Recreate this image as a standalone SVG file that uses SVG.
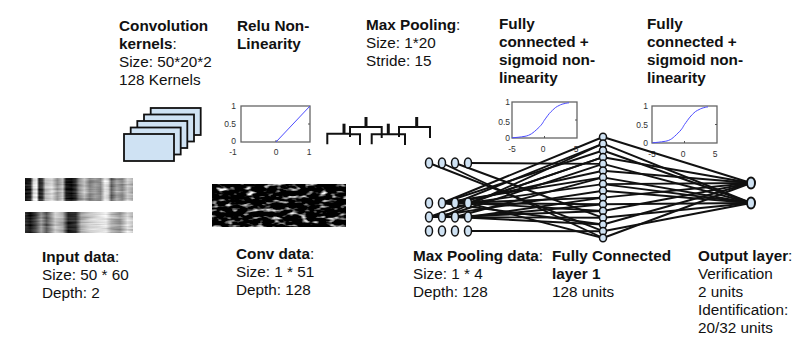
<svg xmlns="http://www.w3.org/2000/svg" width="809" height="346" viewBox="0 0 809 346">
<style>
  text { font-family: "Liberation Sans", Arial, sans-serif; fill: #111; }
  .t { font-size: 15.3px; }
  .b { font-weight: bold; }
  .tick { font-size: 8.5px; fill: #333; }
  .kern { fill: #cfe2f3; stroke: #111; stroke-width: 1.8; }
  .box { fill: #fff; stroke: #666; stroke-width: 1.3; }
  .curve { fill: none; stroke: #4b4bff; stroke-width: 1; }
  .tk { stroke: #555; stroke-width: 1; }
  .pool { fill: none; stroke: #111; stroke-width: 2; }
  .stem { fill: none; stroke: #111; stroke-width: 3; }
  .conn line { stroke: #111; stroke-width: 1.9; }
  .node { fill: #cfe2f3; stroke: #111; stroke-width: 1.5; }
</style>
<defs>
  <linearGradient id="g1" x1="0" y1="0" x2="1" y2="0">
    <stop offset="0" stop-color="#111"/><stop offset="0.05" stop-color="#222"/>
    <stop offset="0.08" stop-color="#ddd"/><stop offset="0.11" stop-color="#eee"/>
    <stop offset="0.13" stop-color="#222"/><stop offset="0.16" stop-color="#333"/>
    <stop offset="0.19" stop-color="#bbb"/><stop offset="0.25" stop-color="#ddd"/>
    <stop offset="0.3" stop-color="#999"/><stop offset="0.35" stop-color="#ccc"/>
    <stop offset="0.38" stop-color="#222"/><stop offset="0.43" stop-color="#111"/>
    <stop offset="0.47" stop-color="#333"/><stop offset="0.5" stop-color="#888"/>
    <stop offset="0.55" stop-color="#bbb"/><stop offset="0.6" stop-color="#777"/>
    <stop offset="0.65" stop-color="#999"/><stop offset="0.7" stop-color="#888"/>
    <stop offset="0.74" stop-color="#eee"/><stop offset="0.77" stop-color="#ddd"/>
    <stop offset="0.8" stop-color="#666"/><stop offset="0.85" stop-color="#aaa"/>
    <stop offset="0.9" stop-color="#888"/><stop offset="0.95" stop-color="#ccc"/>
    <stop offset="1" stop-color="#aaa"/>
  </linearGradient>
  <linearGradient id="g2" x1="0" y1="0" x2="1" y2="0">
    <stop offset="0" stop-color="#333"/><stop offset="0.05" stop-color="#111"/>
    <stop offset="0.1" stop-color="#444"/><stop offset="0.15" stop-color="#999"/>
    <stop offset="0.2" stop-color="#555"/><stop offset="0.28" stop-color="#ccc"/>
    <stop offset="0.35" stop-color="#aaa"/><stop offset="0.4" stop-color="#222"/>
    <stop offset="0.47" stop-color="#333"/><stop offset="0.52" stop-color="#aaa"/>
    <stop offset="0.6" stop-color="#ccc"/><stop offset="0.68" stop-color="#ddd"/>
    <stop offset="0.75" stop-color="#eee"/><stop offset="0.8" stop-color="#bbb"/>
    <stop offset="0.88" stop-color="#999"/><stop offset="0.95" stop-color="#ddd"/>
    <stop offset="1" stop-color="#bbb"/>
  </linearGradient>
  <filter id="streak" x="0" y="0" width="1" height="1" color-interpolation-filters="sRGB">
    <feTurbulence type="fractalNoise" baseFrequency="0.04 0.45" numOctaves="2" seed="5" result="n"/>
    <feColorMatrix in="n" type="matrix" values="0.33 0.33 0.33 0 0  0.33 0.33 0.33 0 0  0.33 0.33 0.33 0 0  0 0 0 0 1" result="g"/>
    <feComposite in="SourceGraphic" in2="g" operator="arithmetic" k1="0" k2="1" k3="0.7" k4="-0.35"/>
  </filter>
  <filter id="speck" x="0" y="0" width="1" height="1" color-interpolation-filters="sRGB">
    <feTurbulence type="fractalNoise" baseFrequency="0.11 0.24" numOctaves="2" seed="11"/>
    <feColorMatrix type="matrix" values="3.4 0 0 0 -1.8  3.4 0 0 0 -1.8  3.4 0 0 0 -1.8  0 0 0 0 1"/>
  </filter>
</defs>
<rect width="809" height="346" fill="#fff"/>

<!-- top labels -->
<g id="label-kernels">
  <text class="t b" x="119" y="31">Convolution</text>
  <text class="t" x="119" y="49"><tspan class="b">kernels</tspan>:</text>
  <text class="t" x="119" y="67">Size: 50*20*2</text>
  <text class="t" x="119" y="85">128 Kernels</text>
</g>
<g id="label-relu">
  <text class="t b" x="237" y="31">Relu Non-</text>
  <text class="t b" x="237" y="49">Linearity</text>
</g>
<g id="label-maxpool">
  <text class="t" x="366" y="29.5"><tspan class="b">Max Pooling</tspan>:</text>
  <text class="t" x="366" y="47.5">Size: 1*20</text>
  <text class="t" x="366" y="65.5">Stride: 15</text>
</g>
<g id="label-fc1">
  <text class="t b" x="499" y="29">Fully</text>
  <text class="t b" x="499" y="47">connected +</text>
  <text class="t b" x="499" y="65">sigmoid non-</text>
  <text class="t b" x="499" y="83">linearity</text>
</g>
<g id="label-fc2">
  <text class="t b" x="647" y="29">Fully</text>
  <text class="t b" x="647" y="47">connected +</text>
  <text class="t b" x="647" y="65">sigmoid non-</text>
  <text class="t b" x="647" y="83">linearity</text>
</g>

<!-- kernels stack -->
<g id="kernels">
  <rect class="kern" x="150.7" y="108" width="50" height="27"/>
  <rect class="kern" x="144" y="114.5" width="50" height="27"/>
  <rect class="kern" x="137.3" y="121" width="50" height="27"/>
  <rect class="kern" x="130.7" y="127.5" width="50" height="27"/>
  <rect class="kern" x="124" y="134" width="50" height="27"/>
</g>

<!-- relu plot -->
<g id="relu-plot">
  <rect class="box" x="241" y="106" width="69" height="36"/>
  <line class="tk" x1="276" y1="142" x2="276" y2="140"/>
  <line class="tk" x1="310" y1="124" x2="308" y2="124"/>
  <polyline class="curve" points="276,142 310,106"/>
  <text class="tick" x="236" y="109" text-anchor="end">1</text>
  <text class="tick" x="236" y="127" text-anchor="end">0.5</text>
  <text class="tick" x="236" y="144" text-anchor="end">0</text>
  <text class="tick" x="233" y="154.5" text-anchor="middle">-1</text>
  <text class="tick" x="276" y="154.5" text-anchor="middle">0</text>
  <text class="tick" x="309" y="154.5" text-anchor="middle">1</text>
</g>

<!-- max pooling icon -->
<g id="pooling-icon">
  <polyline class="pool" points="327.3,144.3 327.3,133.7 350,133.7"/>
  <line class="stem" x1="344" y1="123.7" x2="344" y2="133.7"/>
  <polyline class="pool" points="350,137 350,127 381.7,127 381.7,138"/>
  <line class="stem" x1="366" y1="117" x2="366" y2="127"/>
  <polyline class="pool" points="349,134.3 360,134.3 360,145"/>
  <polyline class="pool" points="371.7,144.3 371.7,134.3 405,134.3 405,145"/>
  <line class="stem" x1="388.3" y1="123.7" x2="388.3" y2="134.3"/>
  <polyline class="pool" points="399,137 399,127 430,127 430,138"/>
  <line class="stem" x1="416.7" y1="117" x2="416.7" y2="127"/>
</g>

<!-- sigmoid plot 1 -->
<g id="sigmoid-plot-1">
  <rect class="box" x="512" y="102" width="65" height="36"/>
  <line class="tk" x1="544.5" y1="138" x2="544.5" y2="136"/>
  <line class="tk" x1="577" y1="120" x2="575" y2="120"/>
  <path class="curve" d="M512,137.8 C516,137.5 520,137.2 525,136.3 S533,133 538,128.3 S543,122 544.5,120 S549,113.5 551,111.7 S555,107.5 557.5,106.3 S561,104.3 564,103.7 S567,103 569,102.8"/>
  <text class="tick" x="510" y="105" text-anchor="end">1</text>
  <text class="tick" x="510" y="125" text-anchor="end">0.5</text>
  <text class="tick" x="510" y="141" text-anchor="end">0</text>
  <text class="tick" x="512" y="152" text-anchor="middle">-5</text>
  <text class="tick" x="543" y="152" text-anchor="middle">0</text>
  <text class="tick" x="576" y="152" text-anchor="middle">5</text>
</g>

<!-- sigmoid plot 2 -->
<g id="sigmoid-plot-2">
  <rect class="box" x="652" y="106" width="65" height="37"/>
  <line class="tk" x1="684.5" y1="143" x2="684.5" y2="141"/>
  <line class="tk" x1="717" y1="124.5" x2="715" y2="124.5"/>
  <path class="curve" d="M652.3,142.8 C656,142.5 660,142.1 665.2,141.3 S673,138 678.1,133 S683,126.5 684.5,124.5 S689,118 690.9,116 S695,111.5 697.4,110.4 S701,108.3 703.8,107.7 S706.5,107 708,106.9"/>
  <text class="tick" x="648" y="109" text-anchor="end">1</text>
  <text class="tick" x="648" y="127.5" text-anchor="end">0.5</text>
  <text class="tick" x="648" y="146" text-anchor="end">0</text>
  <text class="tick" x="652" y="157" text-anchor="middle">-5</text>
  <text class="tick" x="683" y="157" text-anchor="middle">0</text>
  <text class="tick" x="715" y="157" text-anchor="middle">5</text>
</g>

<!-- input data -->
<g id="input-data">
  <rect x="25" y="178" width="108" height="23" fill="url(#g1)" filter="url(#streak)"/>
  <rect x="25" y="212" width="108" height="21" fill="url(#g2)" filter="url(#streak)"/>
</g>

<!-- conv data -->
<g id="conv-data">
  <rect x="212" y="184" width="134" height="43" fill="#000" filter="url(#speck)"/>
</g>

<!-- connectors -->
<g id="connectors" class="conn">
  <line x1="468" y1="163" x2="603" y2="163.9"/>
  <line x1="429" y1="163" x2="603" y2="231.2"/>
  <line x1="442" y1="163" x2="603" y2="238"/>
  <line x1="455" y1="163" x2="603" y2="217.8"/>
  <line x1="468" y1="231" x2="603" y2="231.2"/>
  <line x1="442" y1="203" x2="603" y2="137"/>
  <line x1="442" y1="203" x2="603" y2="150.5"/>
  <line x1="442" y1="203" x2="603" y2="177.4"/>
  <line x1="442" y1="203" x2="603" y2="204.3"/>
  <line x1="442" y1="203" x2="603" y2="224.5"/>
  <line x1="455" y1="203" x2="603" y2="143.7"/>
  <line x1="455" y1="203" x2="603" y2="170.7"/>
  <line x1="455" y1="203" x2="603" y2="197.6"/>
  <line x1="468" y1="203" x2="603" y2="157.2"/>
  <line x1="468" y1="203" x2="603" y2="184.1"/>
  <line x1="468" y1="203" x2="603" y2="211"/>
  <line x1="468" y1="203" x2="603" y2="238"/>
  <line x1="429" y1="217" x2="603" y2="157.2"/>
  <line x1="429" y1="217" x2="603" y2="190.8"/>
  <line x1="429" y1="217" x2="603" y2="217.8"/>
  <line x1="442" y1="217" x2="603" y2="143.7"/>
  <line x1="442" y1="217" x2="603" y2="163.9"/>
  <line x1="442" y1="217" x2="603" y2="211"/>
  <line x1="455" y1="217" x2="603" y2="177.4"/>
  <line x1="455" y1="217" x2="603" y2="224.5"/>
  <line x1="468" y1="217" x2="603" y2="197.6"/>
  <line x1="468" y1="217" x2="603" y2="204.3"/>

  <line x1="603" y1="137" x2="751" y2="183"/>
  <line x1="603" y1="143.7" x2="751" y2="203"/>
  <line x1="603" y1="150.5" x2="751" y2="203"/>
  <line x1="603" y1="157.2" x2="751" y2="183"/>
  <line x1="603" y1="163.9" x2="751" y2="203"/>
  <line x1="603" y1="170.7" x2="751" y2="183"/>
  <line x1="603" y1="177.4" x2="751" y2="203"/>
  <line x1="603" y1="184.1" x2="751" y2="183"/>
  <line x1="603" y1="184.1" x2="751" y2="203"/>
  <line x1="603" y1="190.8" x2="751" y2="203"/>
  <line x1="603" y1="197.6" x2="751" y2="183"/>
  <line x1="603" y1="204.3" x2="751" y2="203"/>
  <line x1="603" y1="211" x2="751" y2="183"/>
  <line x1="603" y1="217.8" x2="751" y2="203"/>
  <line x1="603" y1="224.5" x2="751" y2="183"/>
  <line x1="603" y1="231.2" x2="751" y2="203"/>
  <line x1="603" y1="238" x2="751" y2="183"/>
</g>

<!-- max pooling nodes -->
<g id="pool-nodes">
  <ellipse class="node" cx="429" cy="163" rx="3.5" ry="5"/><ellipse class="node" cx="442" cy="163" rx="3.5" ry="5"/>
  <ellipse class="node" cx="455" cy="163" rx="3.5" ry="5"/><ellipse class="node" cx="468" cy="163" rx="3.5" ry="5"/>
  <ellipse class="node" cx="429" cy="203" rx="3.5" ry="5"/><ellipse class="node" cx="442" cy="203" rx="3.5" ry="5"/>
  <ellipse class="node" cx="455" cy="203" rx="3.5" ry="5"/><ellipse class="node" cx="468" cy="203" rx="3.5" ry="5"/>
  <ellipse class="node" cx="429" cy="217" rx="3.5" ry="5"/><ellipse class="node" cx="442" cy="217" rx="3.5" ry="5"/>
  <ellipse class="node" cx="455" cy="217" rx="3.5" ry="5"/><ellipse class="node" cx="468" cy="217" rx="3.5" ry="5"/>
  <ellipse class="node" cx="429" cy="231" rx="3.5" ry="5"/><ellipse class="node" cx="442" cy="231" rx="3.5" ry="5"/>
  <ellipse class="node" cx="455" cy="231" rx="3.5" ry="5"/><ellipse class="node" cx="468" cy="231" rx="3.5" ry="5"/>
</g>

<!-- fully connected nodes -->
<g id="fc-nodes">
  <ellipse class="node" cx="603" cy="137" rx="3.5" ry="3.8"/>
  <ellipse class="node" cx="603" cy="143.7" rx="3.5" ry="3.8"/>
  <ellipse class="node" cx="603" cy="150.5" rx="3.5" ry="3.8"/>
  <ellipse class="node" cx="603" cy="157.2" rx="3.5" ry="3.8"/>
  <ellipse class="node" cx="603" cy="163.9" rx="3.5" ry="3.8"/>
  <ellipse class="node" cx="603" cy="170.7" rx="3.5" ry="3.8"/>
  <ellipse class="node" cx="603" cy="177.4" rx="3.5" ry="3.8"/>
  <ellipse class="node" cx="603" cy="184.1" rx="3.5" ry="3.8"/>
  <ellipse class="node" cx="603" cy="190.8" rx="3.5" ry="3.8"/>
  <ellipse class="node" cx="603" cy="197.6" rx="3.5" ry="3.8"/>
  <ellipse class="node" cx="603" cy="204.3" rx="3.5" ry="3.8"/>
  <ellipse class="node" cx="603" cy="211" rx="3.5" ry="3.8"/>
  <ellipse class="node" cx="603" cy="217.8" rx="3.5" ry="3.8"/>
  <ellipse class="node" cx="603" cy="224.5" rx="3.5" ry="3.8"/>
  <ellipse class="node" cx="603" cy="231.2" rx="3.5" ry="3.8"/>
  <ellipse class="node" cx="603" cy="238" rx="3.5" ry="3.8"/>
</g>

<!-- output nodes -->
<g id="output-nodes">
  <ellipse class="node" cx="751" cy="183" rx="4" ry="5.5" style="stroke-width:2"/>
  <ellipse class="node" cx="751" cy="203" rx="4" ry="5.5" style="stroke-width:2"/>
</g>

<!-- bottom labels -->
<g id="label-input">
  <text class="t" x="42" y="262"><tspan class="b">Input data</tspan>:</text>
  <text class="t" x="42" y="280">Size: 50 * 60</text>
  <text class="t" x="42" y="298">Depth: 2</text>
</g>
<g id="label-conv">
  <text class="t" x="236" y="259"><tspan class="b">Conv data</tspan>:</text>
  <text class="t" x="236" y="277">Size: 1 * 51</text>
  <text class="t" x="236" y="295">Depth: 128</text>
</g>
<g id="label-pooldata">
  <text class="t" x="413" y="261"><tspan class="b">Max Pooling data</tspan>:</text>
  <text class="t" x="413" y="279">Size: 1 * 4</text>
  <text class="t" x="413" y="297">Depth: 128</text>
</g>
<g id="label-fclayer">
  <text class="t b" x="552" y="261">Fully Connected</text>
  <text class="t b" x="552" y="279">layer 1</text>
  <text class="t" x="552" y="297">128 units</text>
</g>
<g id="label-output">
  <text class="t" x="698" y="261"><tspan class="b">Output layer</tspan>:</text>
  <text class="t" x="698" y="279">Verification</text>
  <text class="t" x="698" y="297">2 units</text>
  <text class="t" x="698" y="315">Identification:</text>
  <text class="t" x="698" y="333">20/32 units</text>
</g>
</svg>
